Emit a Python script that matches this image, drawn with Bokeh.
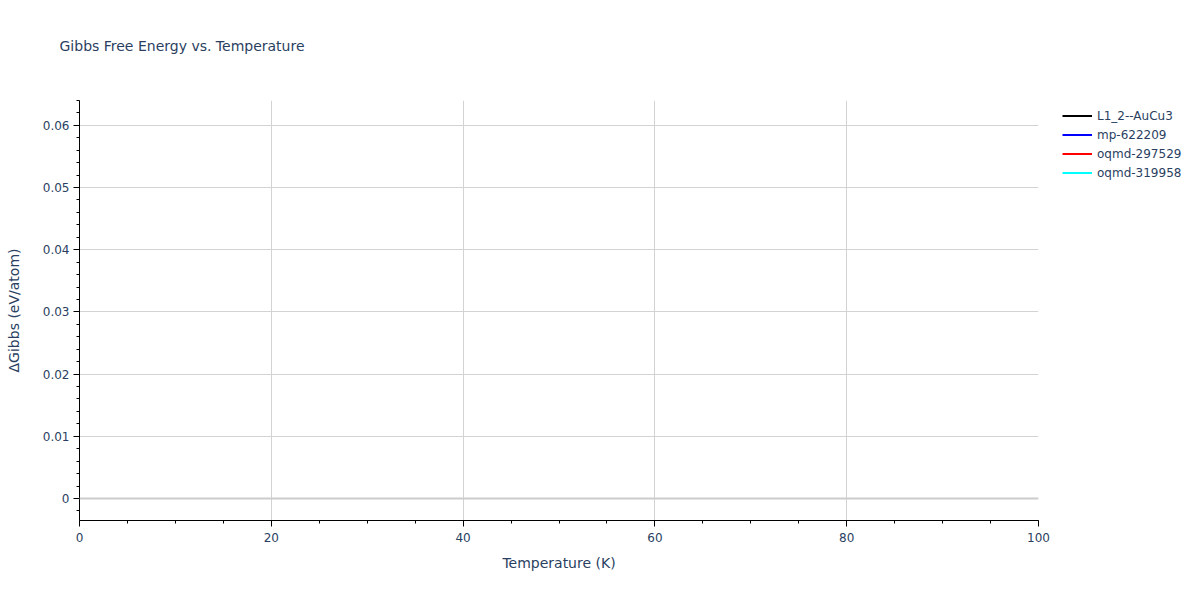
from bokeh.plotting import figure
from bokeh.layouts import row
from bokeh.models import Range1d, Legend, LegendItem, Span, FixedTicker, Title
from bokeh.embed import file_html
from bokeh.resources import INLINE

# --- data (the traces carry no points inside the visible window) ---
series_names = ["L1_2--AuCu3", "mp-622209", "oqmd-297529", "oqmd-319958"]
series_colors = ["black", "blue", "red", "cyan"]
nan = float("nan")
temperature = [[nan], [nan], [nan], [nan]]
delta_gibbs = [[nan], [nan], [nan], [nan]]

x_ticks = [0, 20, 40, 60, 80, 100]
y_ticks = [0, 0.01, 0.02, 0.03, 0.04, 0.05, 0.06]

FONT = "DejaVu Sans"
TEXT = "#2a3f5f"

p = figure(
    width=1050, height=584,
    x_range=Range1d(0, 100), y_range=Range1d(-0.00354, 0.0640),
    toolbar_location=None, output_backend="svg",
    min_border_left=79, min_border_right=12,
    min_border_top=100, min_border_bottom=64,
)
p.outline_line_color = None
p.background_fill_color = "white"

# --- title (an empty spacer title keeps it away from the plot area) ---
p.title = None
p.add_layout(Title(text=" ", text_font=FONT, text_font_size="14px", standoff=29), "above")
p.add_layout(Title(text="Gibbs Free Energy vs. Temperature", text_font=FONT,
                   text_font_size="14px", text_font_style="normal",
                   text_color=TEXT, offset=-20, standoff=0), "above")

# --- axes ---
p.xaxis.ticker = FixedTicker(ticks=x_ticks, minor_ticks=list(range(0, 101, 5)))
p.yaxis.ticker = FixedTicker(ticks=y_ticks,
                             minor_ticks=[round(-0.002 + 0.002 * i, 3) for i in range(34)])
p.yaxis.formatter.use_scientific = False
for ax in (p.xaxis, p.yaxis):
    ax.axis_line_color = "black"
    ax.major_tick_line_color = "black"
    ax.minor_tick_line_color = "black"
    ax.major_tick_out = 6
    ax.major_tick_in = 0
    ax.minor_tick_out = 3
    ax.minor_tick_in = 0
    ax.major_label_text_font = FONT
    ax.major_label_text_font_size = "12px"
    ax.major_label_text_color = TEXT
    ax.axis_label_text_font = FONT
    ax.axis_label_text_font_size = "14px"
    ax.axis_label_text_color = TEXT
    ax.axis_label_text_font_style = "normal"
p.xaxis.axis_label = "Temperature (K)"
p.yaxis.axis_label = "\u0394Gibbs (eV/atom)"
p.xaxis.axis_label_standoff = 10
p.yaxis.axis_label_standoff = 18
p.xaxis.major_label_standoff = 6
p.yaxis.major_label_standoff = 4

p.grid.grid_line_color = "#d3d3d3"
p.grid.grid_line_width = 1

zero = Span(location=0, dimension="width", line_color="#cccccc", line_width=2)
p.add_layout(zero)

# --- traces ---
for name, color, xs, ys in zip(series_names, series_colors, temperature, delta_gibbs):
    p.line(xs, ys, line_color=color, line_width=2)

# --- legend panel to the right of the plot area ---
pl = figure(width=134, height=584, toolbar_location=None, output_backend="svg",
            x_axis_location=None, y_axis_location=None,
            min_border=0, outline_line_color=None)
pl.grid.visible = False
items = []
for name, color, xs, ys in zip(series_names, series_colors, temperature, delta_gibbs):
    r = pl.line(xs, ys, line_color=color, line_width=2)
    items.append(LegendItem(label=name, renderers=[r]))

legend = Legend(items=items, location=(12, 338), orientation="vertical",
                padding=0, margin=0, spacing=0, label_height=19, glyph_height=19,
                glyph_width=30, label_standoff=5,
                label_text_font=FONT, label_text_font_size="12px",
                label_text_color=TEXT, background_fill_alpha=0,
                border_line_color=None)
pl.add_layout(legend, "center")

layout = row(p, pl)
open("out.html", "w").write(file_html(layout, INLINE))
